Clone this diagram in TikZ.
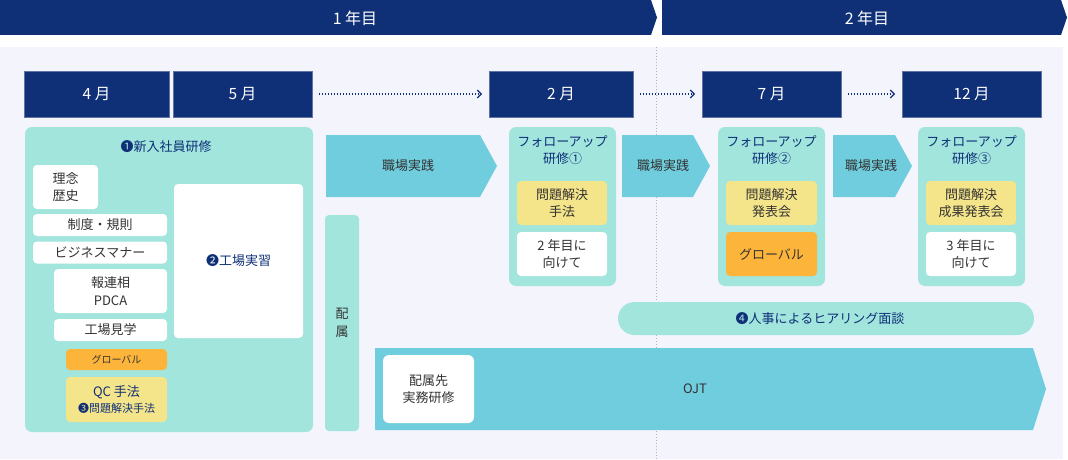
\documentclass[tikz,border=0pt]{standalone}
\usepackage{fontspec}
\setmainfont{Noto Sans CJK JP}
\usepackage{tikz}
\usetikzlibrary{arrows.meta}
\definecolor{navy}{RGB}{15,47,119}
\definecolor{navyedge}{RGB}{96,114,166}
\definecolor{panel}{RGB}{244,244,253}
\definecolor{mint}{RGB}{161,229,221}
\definecolor{sky}{RGB}{112,205,221}
\definecolor{lemon}{RGB}{244,228,138}
\definecolor{amber}{RGB}{252,181,58}
\definecolor{ink}{RGB}{51,51,51}
\definecolor{divgray}{RGB}{175,178,190}

\begin{document}
\begin{tikzpicture}[x=1pt,y=-1pt,
      every node/.style={inner sep=0pt,align=center,text=ink,
        font=\fontsize{13}{17.5}\selectfont},
      month/.style={draw=navyedge,line width=0.6pt,fill=navy,text=white,
        minimum height=46pt,font=\fontsize{15.5}{18}\selectfont},
      banner/.style={text=white,font=\fontsize{16}{18}\selectfont},
      tealbox/.style={fill=mint,rounded corners=7pt},
      card/.style={fill=white,rounded corners=4pt},
      heading/.style={text=navy},
      dotarrow/.style={->,draw=navy,line width=1.3pt,
        dash pattern=on 1.3pt off 1.7pt,
        >={Straight Barb[length=4pt,width=8pt,line width=1.3pt]},
        shorten <=6.5pt,shorten >=6.5pt}]
      \useasboundingbox (0,0) rectangle (1068,460);

      \fill[navy] (0,0) -- (651,0) -- (657,17.5) -- (651,35) -- (0,35) -- cycle;
      \fill[navy] (662,0) -- (1061,0) -- (1067,17.5) -- (1061,35) -- (662,35) -- cycle;
      \node[banner] (year1) at (355,18) {1 年目};
      \node[banner] (year2) at (867,18) {2 年目};

      \fill[panel] (0,47) rectangle (1063,459);
      \draw[divgray,line width=0.7pt,dash pattern=on 1pt off 2pt] (656,47) -- (656,460);

      \node[month,minimum width=145pt] (m4)  at ( 96.5,94) {4 月};
      \node[month,minimum width=139pt] (m5)  at (242.5,94) {5 月};
      \node[month,minimum width=144pt] (m2)  at (561,  94) {2 月};
      \node[month,minimum width=139pt] (m7)  at (771.5,94) {7 月};
      \node[month,minimum width=139pt] (m12) at (971.5,94) {12 月};

      \path
      (m5) edge [dotarrow] (m2)
      (m2) edge [dotarrow] (m7)
      (m7) edge [dotarrow] (m12)
      ;

      % new employee training
      \node[tealbox,minimum width=288pt,minimum height=305pt] (intro) at (169,279.5) {};
      \node[heading] (introtitle) at (166,147) {❶新入社員研修};
      \node[card,minimum width=65pt, minimum height=44pt] (rinen)   at ( 65.5,187) {理念\\歴史};
      \node[card,minimum width=134pt,minimum height=22pt] (seido)   at (100,  225) {制度・規則};
      \node[card,minimum width=134pt,minimum height=22pt] (manner)  at (100,  252.5) {ビジネスマナー};
      \node[card,minimum width=113pt,minimum height=44pt] (hou)     at (110.5,291) {報連相\\PDCA};
      \node[card,minimum width=113pt,minimum height=22pt] (kengaku) at (110.5,330) {工場見学};
      \node[card,fill=amber,minimum width=101pt,minimum height=21pt,
        font=\fontsize{10}{12}\selectfont] (global1) at (116.5,359.5) {グローバル};
      \node[card,fill=lemon,minimum width=101pt,minimum height=45pt,text=navy,
        font=\fontsize{13}{16}\selectfont] (qc) at (116.5,399.5)
        {QC 手法\\{\fontsize{11}{13}\selectfont ❸問題解決手法}};
      \node[card,minimum width=129pt,minimum height=154pt,text=navy] (factory) at (238.5,261) {❷工場実習};

      \node[tealbox,rounded corners=4pt,minimum width=34pt,minimum height=216pt] (haizoku) at (342,323) {配\\属};

      % workplace practice
      \fill[sky] (326,135) -- (480,135) -- (497,166) -- (480,197) -- (326,197) -- cycle;
      \fill[sky] (622,135) -- (693,135) -- (710,166) -- (693,197) -- (622,197) -- cycle;
      \fill[sky] (833,135) -- (895,135) -- (912,166) -- (895,197) -- (833,197) -- cycle;
      \node (work1) at (408,166) {職場実践};
      \node (work2) at (663,166) {職場実践};
      \node (work3) at (871,166) {職場実践};

      % follow-up training
      \node[tealbox,minimum width=107pt,minimum height=159pt] (fu1) at (562.5,206.5) {};
      \node[tealbox,minimum width=107pt,minimum height=159pt] (fu2) at (771.5,206.5) {};
      \node[tealbox,minimum width=107pt,minimum height=159pt] (fu3) at (971.5,206.5) {};
      \node[heading,font=\fontsize{13}{17}\selectfont] (fu1title) at (562.5,150.5) {フォローアップ\\研修①};
      \node[heading,font=\fontsize{13}{17}\selectfont] (fu2title) at (771.5,150.5) {フォローアップ\\研修②};
      \node[heading,font=\fontsize{13}{17}\selectfont] (fu3title) at (971.5,150.5) {フォローアップ\\研修③};
      \node[card,fill=lemon,minimum width=90pt,minimum height=44pt] (fu1a) at (562,  203) {問題解決\\手法};
      \node[card,          minimum width=90pt,minimum height=44pt] (fu1b) at (562,  254) {2 年目に\\向けて};
      \node[card,fill=lemon,minimum width=91pt,minimum height=44pt] (fu2a) at (771.5,203) {問題解決\\発表会};
      \node[card,fill=amber,minimum width=91pt,minimum height=44pt] (fu2b) at (771.5,254) {グローバル};
      \node[card,fill=lemon,minimum width=90pt,minimum height=44pt] (fu3a) at (971,  203) {問題解決\\成果発表会};
      \node[card,          minimum width=90pt,minimum height=44pt] (fu3b) at (971,  254) {3 年目に\\向けて};

      \node[fill=mint,rounded corners=16.5pt,minimum width=416pt,minimum height=33pt] (hearing) at (826,318.5) {};
      \node[heading] (hearingtext) at (820,318.5) {❹人事によるヒアリング面談};

      % OJT
      \fill[sky] (375,348) -- (1033,348) -- (1046,389) -- (1033,430) -- (375,430) -- cycle;
      \node (ojt) at (695,389) {OJT};
      \node[card,rounded corners=6pt,minimum width=91pt,minimum height=68pt] (dept) at (428.5,389) {配属先\\実務研修};
      \end{tikzpicture}
\end{document}
